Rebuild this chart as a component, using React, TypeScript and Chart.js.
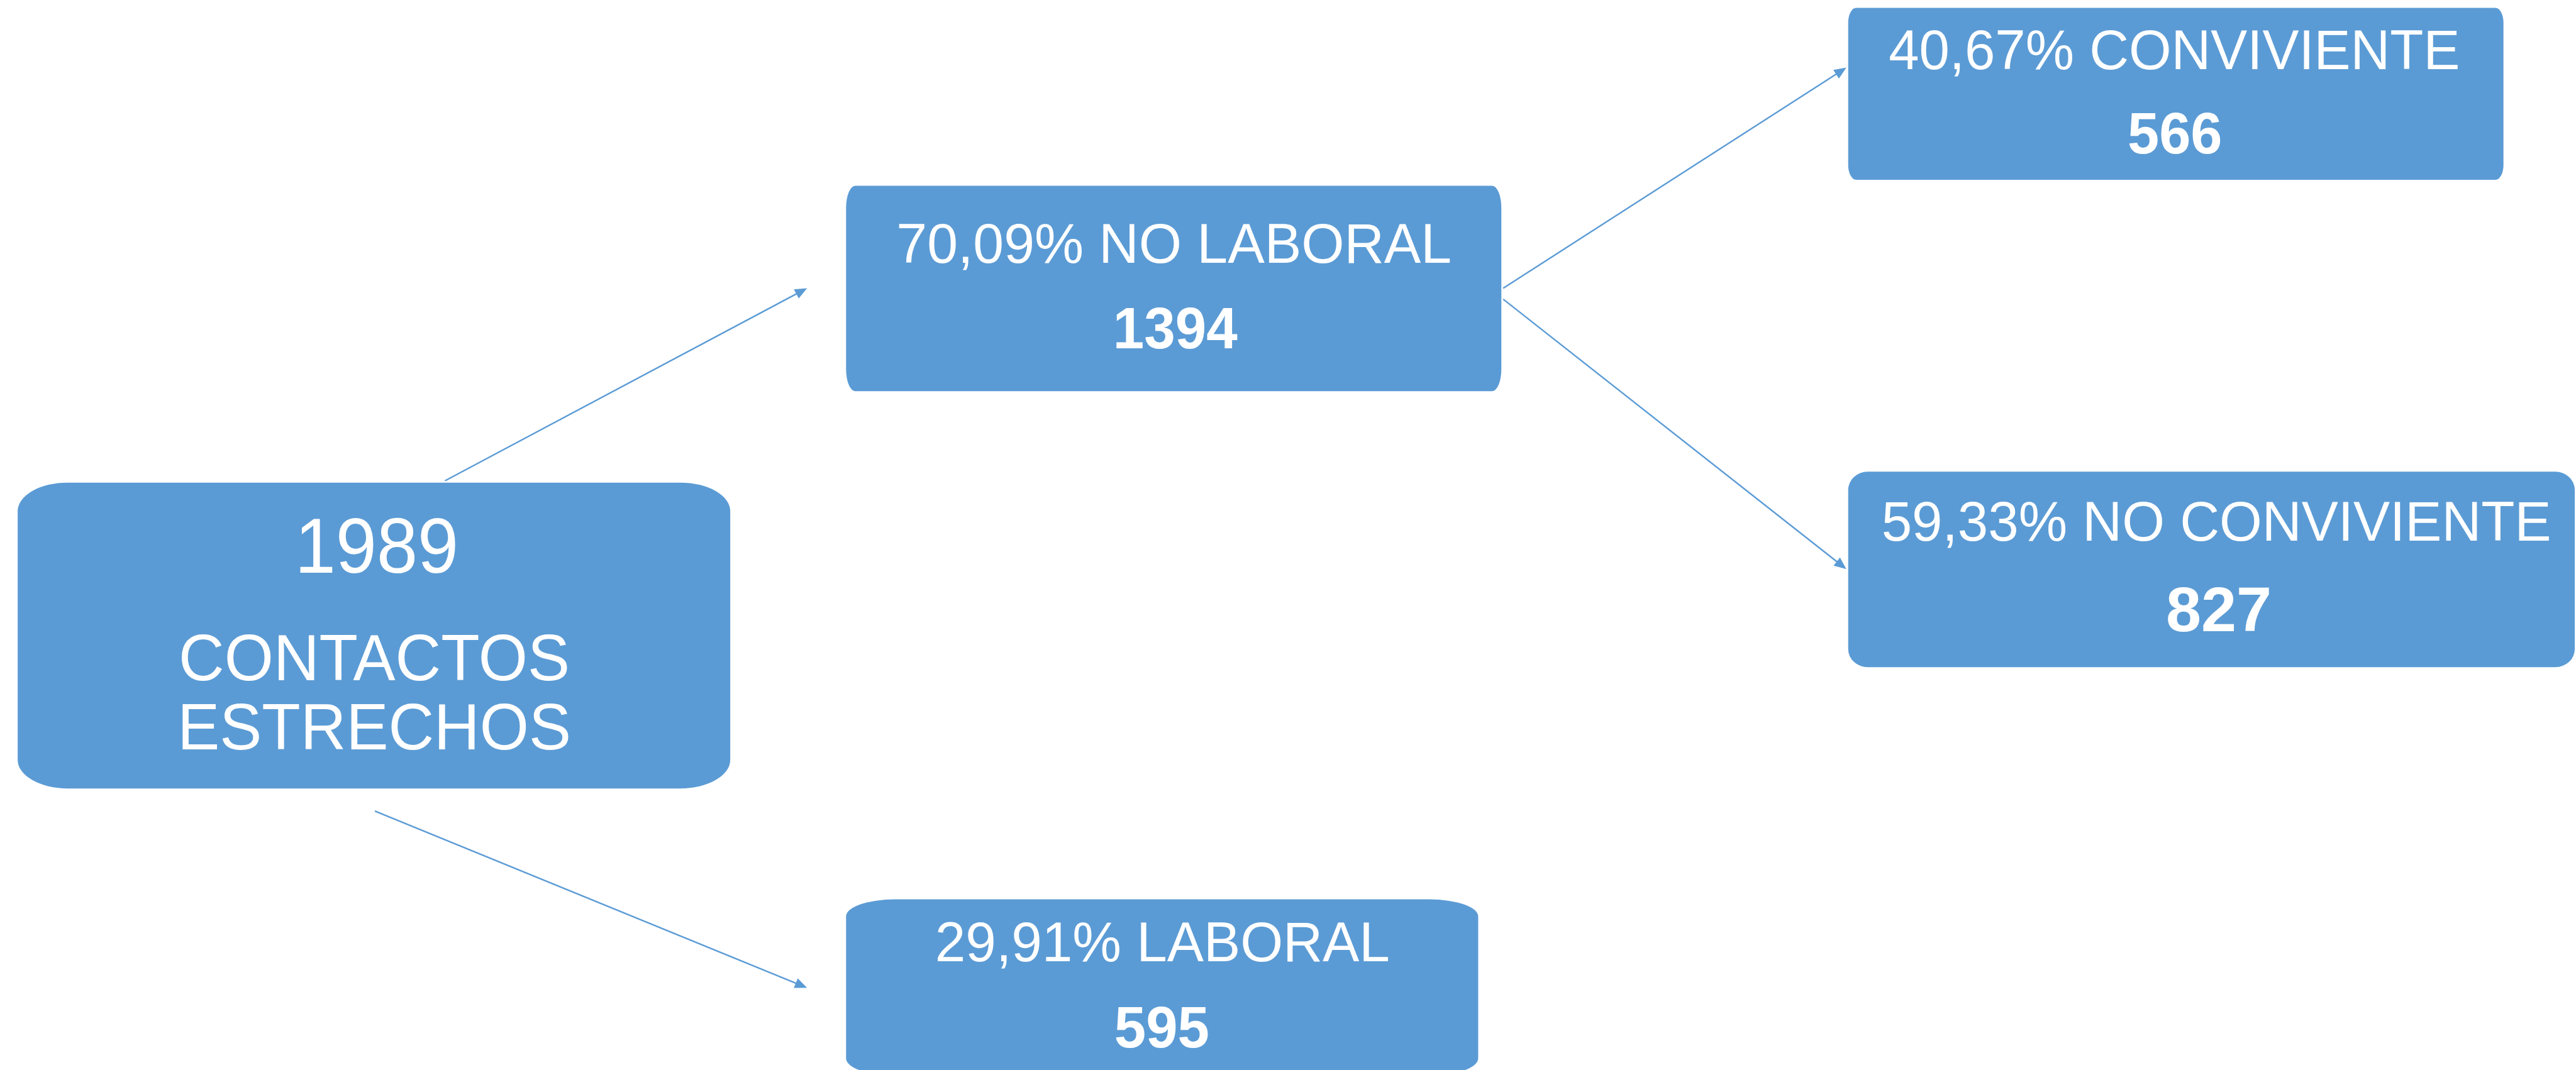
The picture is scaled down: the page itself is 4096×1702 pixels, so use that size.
import React, { useEffect, useRef } from "react";
import { Chart, registerables } from "chart.js";

Chart.register(...registerables);

// ---------- data ----------
const nodeNames = ["CONTACTOS ESTRECHOS", "NO LABORAL", "LABORAL", "CONVIVIENTE", "NO CONVIVIENTE"];
const nodeCounts = [1989, 1394, 595, 566, 827];
const nodePercents = ["", "70,09%", "29,91%", "40,67%", "59,33%"];
const linkFrom = [0, 0, 1, 1];
const linkTo = [1, 2, 3, 4];

// ---------- layout (reference pixel space 4226 x 1756) ----------
const REF_W = 4226;
const REF_H = 1756;
// box rectangles: left, top, right, bottom, corner rx, corner ry
const boxLeft = [29, 1388, 1388, 3032, 3032];
const boxTop = [792, 305, 1476, 13, 774];
const boxRight = [1198, 2463, 2425, 4107, 4224];
const boxBottom = [1294, 642, 1765, 295, 1095];
const boxRx = [82, 15, 80, 13, 32];
const boxRy = [47, 36, 28, 24, 30];
// text placement
const labelCx = [614, 1926, 1907, 3567, 3636];
const labelBase = [1116, 431, 1578, 113, 887];
const labelSize = [108, 91, 91, 92, 92];
const labelSx = [0.961, 0.995, 0.99, 0.975, 0.977];
const labelLineGap = 114;
const countCx = [618, 1928, 1906, 3568, 3640];
const countBase = [940, 572, 1719, 252, 1036];
const countSize = [128, 95, 96, 96, 104];
const countSx = [0.944, 0.966, 0.975, 0.97, 1.0];
const countBold = [false, true, true, true, true];
// arrows: start / tip
const arrowX0 = [730, 615, 2466, 2466];
const arrowY0 = [789, 1331, 473, 491];
const arrowX1 = [1324, 1324, 3029, 3029];
const arrowY1 = [473, 1621, 111, 934];

const BLUE = "#5B9BD5";
const FONT = "'Liberation Sans', Arial, sans-serif";

function ellRect(ctx: CanvasRenderingContext2D, x: number, y: number, w: number, h: number, rx: number, ry: number) {
  ctx.beginPath();
  ctx.moveTo(x + rx, y);
  ctx.lineTo(x + w - rx, y);
  ctx.ellipse(x + w - rx, y + ry, rx, ry, 0, -Math.PI / 2, 0);
  ctx.lineTo(x + w, y + h - ry);
  ctx.ellipse(x + w - rx, y + h - ry, rx, ry, 0, 0, Math.PI / 2);
  ctx.lineTo(x + rx, y + h);
  ctx.ellipse(x + rx, y + h - ry, rx, ry, 0, Math.PI / 2, Math.PI);
  ctx.lineTo(x, y + ry);
  ctx.ellipse(x + rx, y + ry, rx, ry, 0, Math.PI, Math.PI * 1.5);
  ctx.closePath();
}

const diagramPlugin = {
  id: "flowDiagram",
  afterDatasetsDraw(chart: any) {
    const ctx: CanvasRenderingContext2D = chart.ctx;
    const xs = chart.scales.x;
    const ys = chart.scales.y;
    const px = (v: number) => xs.getPixelForValue(v);
    const py = (v: number) => ys.getPixelForValue(v);
    const k = (px(REF_W) - px(0)) / REF_W;

    ctx.save();
    // arrows
    ctx.strokeStyle = BLUE;
    ctx.fillStyle = BLUE;
    ctx.lineWidth = 2.5 * k;
    for (let i = 0; i < linkFrom.length; i++) {
      const x0 = px(arrowX0[i]);
      const y0 = py(arrowY0[i]);
      const x1 = px(arrowX1[i]);
      const y1 = py(arrowY1[i]);
      const ang = Math.atan2(y1 - y0, x1 - x0);
      const hl = 20 * k;
      const hw = 8.5 * k;
      const bx = x1 - hl * Math.cos(ang);
      const by = y1 - hl * Math.sin(ang);
      ctx.beginPath();
      ctx.moveTo(x0, y0);
      ctx.lineTo(bx + 2 * k * Math.cos(ang), by + 2 * k * Math.sin(ang));
      ctx.stroke();
      ctx.beginPath();
      ctx.moveTo(x1, y1);
      ctx.lineTo(bx - hw * Math.sin(ang), by + hw * Math.cos(ang));
      ctx.lineTo(bx + hw * Math.sin(ang), by - hw * Math.cos(ang));
      ctx.closePath();
      ctx.fill();
    }

    // boxes
    for (let i = 0; i < nodeNames.length; i++) {
      const x = px(boxLeft[i]);
      const y = py(boxTop[i]);
      const w = px(boxRight[i]) - x;
      const h = py(boxBottom[i]) - y;
      ellRect(ctx, x, y, w, h, boxRx[i] * k, boxRy[i] * k);
      ctx.fillStyle = BLUE;
      ctx.fill();
    }

    // texts
    ctx.fillStyle = "#FFFFFF";
    ctx.textAlign = "center";
    ctx.textBaseline = "alphabetic";
    const drawText = (t: string, cx: number, base: number, size: number, sx: number, bold: boolean) => {
      ctx.save();
      ctx.translate(px(cx), py(base));
      ctx.scale(sx, 1);
      ctx.font = `${bold ? "bold " : ""}${size * k}px ${FONT}`;
      ctx.fillText(t, 0, 0);
      ctx.restore();
    };
    for (let i = 0; i < nodeNames.length; i++) {
      if (i === 0) {
        const words = nodeNames[i].split(" ");
        words.forEach((wd, j) =>
          drawText(wd, labelCx[i], labelBase[i] + j * labelLineGap, labelSize[i], labelSx[i], false)
        );
      } else {
        drawText(`${nodePercents[i]} ${nodeNames[i]}`, labelCx[i], labelBase[i], labelSize[i], labelSx[i], false);
      }
      drawText(String(nodeCounts[i]), countCx[i], countBase[i], countSize[i], countSx[i], countBold[i]);
    }
    ctx.restore();
  },
};

export default function App() {
  const canvasRef = useRef<HTMLCanvasElement | null>(null);

  useEffect(() => {
    document.body.style.margin = "0";
    const canvas = canvasRef.current;
    if (!canvas) return;
    const centers = nodeNames.map((_, i) => ({
      x: (boxLeft[i] + boxRight[i]) / 2,
      y: (boxTop[i] + boxBottom[i]) / 2,
    }));
    const chart = new Chart(canvas, {
      type: "scatter",
      data: {
        datasets: [
          {
            label: "nodes",
            data: centers,
            pointRadius: 0,
            pointHoverRadius: 0,
          },
        ],
      },
      options: {
        responsive: false,
        animation: false,
        devicePixelRatio: 1,
        events: [],
        layout: { padding: 0 },
        scales: {
          x: { type: "linear", min: 0, max: REF_W, display: false },
          y: { type: "linear", min: 0, max: REF_H, reverse: true, display: false },
        },
        plugins: {
          legend: { display: false },
          tooltip: { enabled: false },
        },
      },
      plugins: [diagramPlugin],
    });
    return () => chart.destroy();
  }, []);

  return (
    <div style={{ position: "absolute", left: 0, top: 0, width: 4096, height: 1702, background: "#FFFFFF" }}>
      <canvas ref={canvasRef} width={4096} height={1702} style={{ display: "block" }} />
    </div>
  );
}
